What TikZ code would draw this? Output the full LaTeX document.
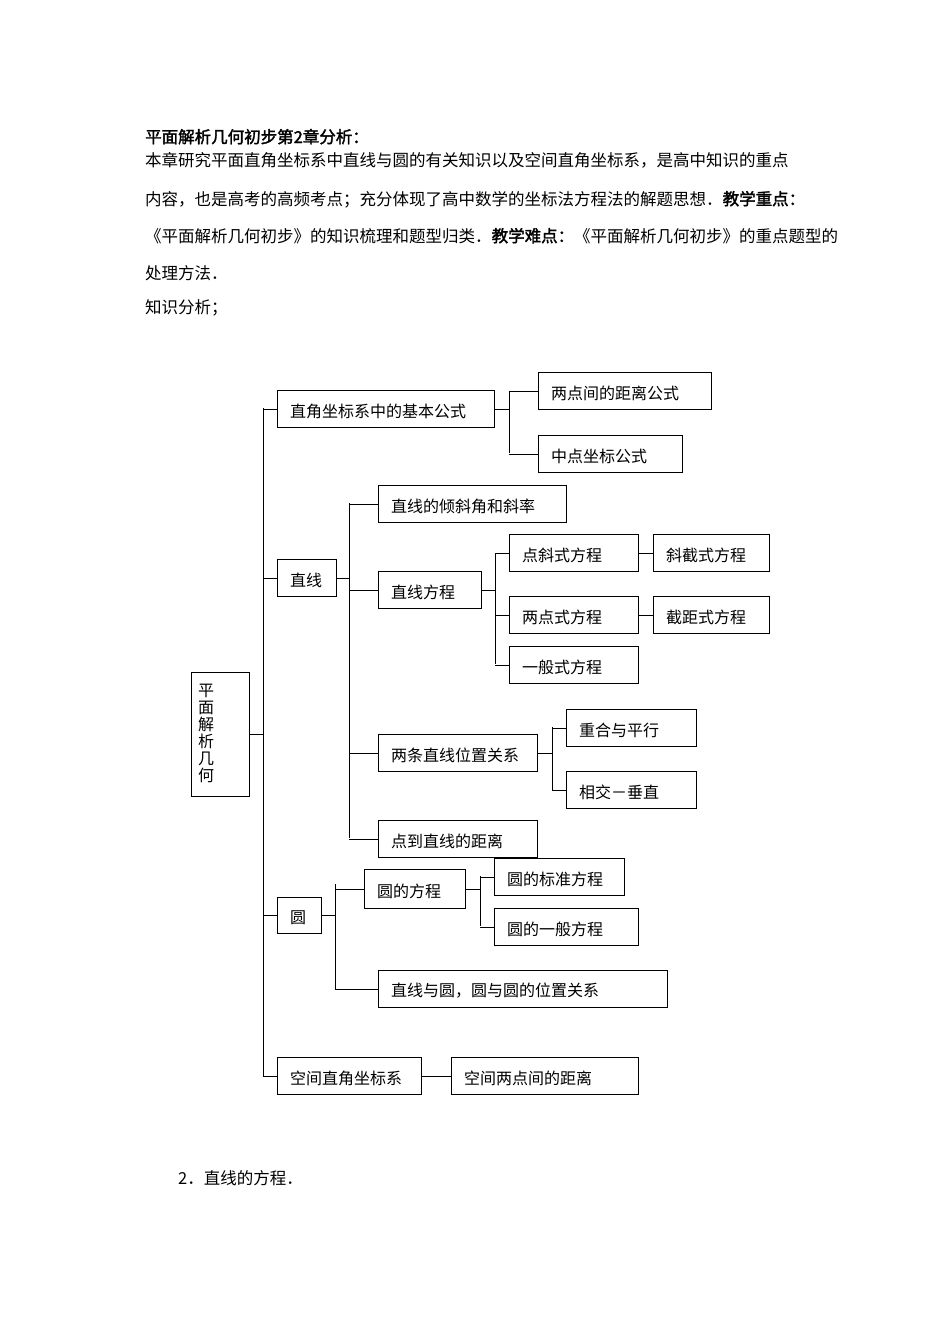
\documentclass[tikz,border=0pt]{standalone}
\usepackage{fontspec}
\setmainfont{Noto Sans CJK SC}[AutoFakeBold=2]
\begin{document}
\begin{tikzpicture}[x=1pt,y=-1pt,
  box/.style={draw,line width=0.9pt,anchor=north west,inner sep=0pt},
  lbl/.style={anchor=west,inner sep=0pt,font=\fontsize{16}{18}\selectfont},
  para/.style={anchor=base west,inner sep=0pt,font=\fontsize{16.5}{20}\selectfont},
  ln/.style={line width=0.9pt}]
\useasboundingbox (0,0) rectangle (950,1344);
\node[para] (h) at (145,143) {\textbf{平面解析几何初步第2章分析：}};
\node[para] (p1) at (145,166) {本章研究平面直角坐标系中直线与圆的有关知识以及空间直角坐标系，是高中知识的重点};
\node[para] (p2) at (145,205) {内容，也是高考的高频考点；充分体现了高中数学的坐标法方程法的解题思想．\textbf{教学重点：}};
\node[para] (p3) at (145,242) {《平面解析几何初步》的知识梳理和题型归类．\textbf{教学难点：}《平面解析几何初步》的重点题型的};
\node[para] (p4) at (145,279) {处理方法．};
\node[para] (p5) at (145,313) {知识分析；};
\node[para] (p6) at (178,1184) {2．直线的方程．};
\newcommand\bx[6]{\node[box,minimum width=#4,minimum height=#5] (#1) at (#2,#3) {};
  \node[lbl] at ([xshift=13,yshift=-2]#1.west) {#6};}
\bx{root}{191}{672}{58}{124}{}
\node[inner sep=0pt,align=center,font=\fontsize{16}{17}\selectfont] at (206,733) {平\\面\\解\\析\\几\\何};
\bx{a}{277}{390}{217}{37}{直角坐标系中的基本公式}
\bx{a1}{538}{372}{173}{37}{两点间的距离公式}
\bx{a2}{538}{435}{144}{37}{中点坐标公式}
\bx{b}{277}{559}{59}{37}{直线}
\bx{b1}{378}{485}{188}{37}{直线的倾斜角和斜率}
\bx{b2}{378}{571}{103}{37}{直线方程}
\bx{b21}{509}{534}{129}{37}{点斜式方程}
\bx{b21r}{653}{534}{116}{37}{斜截式方程}
\bx{b22}{509}{596}{129}{37}{两点式方程}
\bx{b22r}{653}{596}{116}{37}{截距式方程}
\bx{b23}{509}{646}{129}{37}{一般式方程}
\bx{b3}{378}{734}{159}{37}{两条直线位置关系}
\bx{b31}{566}{709}{130}{37}{重合与平行}
\bx{b32}{566}{771}{130}{37}{相交－垂直}
\bx{b4}{378}{820}{159}{37}{点到直线的距离}
\bx{c}{277}{897}{44}{36}{圆}
\bx{c1}{364}{869}{101}{39}{圆的方程}
\bx{c11}{494}{858}{130}{37}{圆的标准方程}
\bx{c12}{494}{908}{144}{37}{圆的一般方程}
\bx{c2}{378}{970}{289}{37}{直线与圆，圆与圆的位置关系}
\bx{d}{277}{1057}{144}{37}{空间直角坐标系}
\bx{d1}{451}{1057}{187}{37}{空间两点间的距离}
% trunk
\coordinate (T1) at (263,408); \coordinate (T2) at (263,1076);
\draw[ln] (T1)--(T2);
\draw[ln] (root.east)--(root.east-|T1);
\foreach \n in {a,b,c,d} \draw[ln] (\n.west-|T1)--(\n.west);
% a
\coordinate (A1) at (509,391); \coordinate (A2) at (509,453);
\draw[ln] (a.east)--(a.east-|A1); \draw[ln] (A1)--(A2);
\foreach \n in {a1,a2} \draw[ln] (\n.west-|A1)--(\n.west);
% b
\coordinate (B1) at (349,503); \coordinate (B2) at (349,838);
\draw[ln] (b.east)--(b.east-|B1); \draw[ln] (B1)--(B2);
\foreach \n in {b1,b2,b3,b4} \draw[ln] (\n.west-|B1)--(\n.west);
\coordinate (BB1) at (495,553); \coordinate (BB2) at (495,664);
\draw[ln] (b2.east)--(b2.east-|BB1); \draw[ln] (BB1)--(BB2);
\foreach \n in {b21,b22,b23} \draw[ln] (\n.west-|BB1)--(\n.west);
\draw[ln] (b21.east)--(b21r.west); \draw[ln] (b22.east)--(b22r.west);
\coordinate (B31) at (552,727); \coordinate (B32) at (552,790);
\draw[ln] (b3.east)--(b3.east-|B31); \draw[ln] (B31)--(B32);
\foreach \n in {b31,b32} \draw[ln] (\n.west-|B31)--(\n.west);
% c
\coordinate (C1) at (335,884); \coordinate (C2) at (335,989);
\draw[ln] (c.east)--(c.east-|C1); \draw[ln] (C1)--(C2);
\foreach \n in {c1,c2} \draw[ln] (\n.west-|C1)--(\n.west);
\coordinate (CC1) at (480,876); \coordinate (CC2) at (480,926);
\draw[ln] (c1.east)--(c1.east-|CC1); \draw[ln] (CC1)--(CC2);
\foreach \n in {c11,c12} \draw[ln] (\n.west-|CC1)--(\n.west);
% d
\draw[ln] (d.east)--(d1.west);
\end{tikzpicture}
\end{document}
